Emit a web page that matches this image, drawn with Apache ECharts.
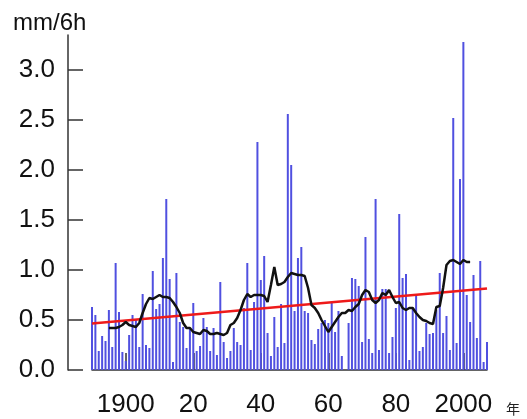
<!DOCTYPE html>
<html>
<head>
<meta charset="utf-8">
<script src="https://cdn.jsdelivr.net/npm/echarts@6/dist/echarts.min.js"></script>
<style>
  html, body { margin: 0; padding: 0; background: #fff; }
  #chart { width: 527px; height: 419px; }
</style>
</head>
<body>
<div id="chart"></div>
<script>
// yearly values 1890-2007 (mm/6h), 1965 missing
const firstYear = 1890;
const rain = [
  0.63, 0.55, 0.19, 0.34, 0.29, 0.60, 0.23, 1.07, 0.58, 0.18,
  0.09, 0.35, 0.55, 0.50, 0.23, 0.76, 0.25, 0.22, 0.99, 0.61,
  0.66, 1.12, 1.71, 0.91, 0.08, 0.97, 0.48, 0.43, 0.22, 0.41,
  0.67, 0.19, 0.24, 0.52, 0.43, 0.19, 0.42, 0.15, 0.88, 0.28,
  0.12, 0.19, 0.42, 0.28, 0.25, 0.62, 1.07, 0.20, 0.68, 2.28,
  0.90, 1.14, 0.37, 0.14, 0.53, 0.23, 0.66, 0.27, 2.56, 2.05,
  0.59, 1.12, 1.23, 0.59, 0.57, 0.30, 0.26, 0.41, 0.47, 0.50,
  0.47, 0.67, 0.38, 0.59, 0.14, null, 0.47, 0.92, 0.91, 0.84,
  0.28, 1.33, 0.31, 0.17, 1.71, 0.20, 0.81, 0.81, 0.17, 0.33,
  0.62, 1.56, 0.92, 0.96, 0.10, 0.62, 0.75, 0.19, 0.23, 0.47,
  0.36, 0.37, 0.60, 0.97, 0.37, 0.54, 0.20, 2.52, 0.27, 1.91,
  3.28, 0.75, 0.48, 0.95, 0.32, 1.09, 0.08, 0.28
];

// running mean, 1895-2002
const meanStart = 1895;
const runMean = [
  0.42, 0.42, 0.42, 0.43, 0.45,
  0.48, 0.45, 0.44, 0.43, 0.47, 0.57, 0.66, 0.72, 0.71, 0.73,
  0.75, 0.73, 0.73, 0.72, 0.68, 0.63, 0.57, 0.47, 0.42, 0.42,
  0.38, 0.37, 0.36, 0.40, 0.39, 0.36, 0.36, 0.37, 0.36, 0.35,
  0.37, 0.45, 0.47, 0.52, 0.60, 0.70, 0.76, 0.73, 0.75, 0.75,
  0.75, 0.74, 0.68, 0.85, 1.03, 0.85, 0.86, 0.88, 0.93, 0.97,
  0.96, 0.95, 0.95, 0.94, 0.82, 0.65, 0.62, 0.57, 0.50, 0.44,
  0.38, 0.43, 0.48, 0.53, 0.57, 0.57, 0.60, 0.59, 0.63, 0.66,
  0.75, 0.80, 0.78, 0.70, 0.67, 0.70, 0.77, 0.75, 0.80, 0.73,
  0.67, 0.68, 0.62, 0.60, 0.62, 0.62, 0.57, 0.53, 0.50, 0.49,
  0.47, 0.46, 0.63, 0.64, 0.82, 1.05, 1.09, 1.10, 1.08, 1.06,
  1.10, 1.08, 1.08
];

// linear trend end points
const trendYears = [1890, 2007];
const trendVals = [0.465, 0.815];

const yTicks = [0, 0.5, 1.0, 1.5, 2.0, 2.5, 3.0];
const xTicks = [1900, 1920, 1940, 1960, 1980, 2000];

const font = "'Liberation Sans', Arial, sans-serif";
const axisColor = '#333';

const chart = echarts.init(document.getElementById('chart'));

chart.setOption({
  animation: false,
  title: {
    text: 'mm/6h',
    left: 8,
    top: 6,
    textStyle: { fontSize: 24, fontWeight: 'normal', color: '#111', fontFamily: font }
  },
  grid: { left: 92, right: 40, top: 35, bottom: 49, containLabel: false },
  xAxis: {
    type: 'value',
    min: 1890,
    max: 2007,
    offset: 14,
    axisLine: { show: true, lineStyle: { color: axisColor, width: 1.5 } },
    axisTick: { show: true, inside: true, length: 17, customValues: xTicks, lineStyle: { color: axisColor, width: 1.5 } },
    axisLabel: {
      customValues: xTicks,
      formatter: (v) => (v % 100 === 0 ? String(v) : String(v % 100)),
      fontSize: 26,
      color: '#111',
      fontFamily: font,
      margin: 8
    },
    splitLine: { show: false }
  },
  yAxis: {
    type: 'value',
    min: 0,
    max: 3.35,
    offset: 24,
    axisLine: { show: true, lineStyle: { color: axisColor, width: 1.5 } },
    axisTick: { show: true, inside: true, length: 15, customValues: yTicks, lineStyle: { color: axisColor, width: 1.5 } },
    axisLabel: {
      customValues: yTicks,
      formatter: (v) => v.toFixed(1),
      fontSize: 26,
      color: '#111',
      fontFamily: font,
      margin: 13
    },
    splitLine: { show: false }
  },
  graphic: [
    {
      type: 'text',
      left: 506,
      top: 402,
      style: { text: '年', fontSize: 14, fill: '#222', fontFamily: "'Noto Sans CJK JP', sans-serif" }
    }
  ],
  series: [
    {
      type: 'bar',
      data: rain.map((v, i) => [firstYear + i, v == null ? '-' : v]),
      barWidth: 2,
      clip: false,
      itemStyle: { color: '#5050e0' },
      z: 1
    },
    {
      type: 'line',
      data: trendYears.map((y, i) => [y, trendVals[i]]),
      showSymbol: false,
      lineStyle: { color: '#ee1a1a', width: 2.5 },
      z: 2
    },
    {
      type: 'line',
      data: runMean.map((v, i) => [meanStart + i, v]),
      showSymbol: false,
      lineStyle: { color: '#111', width: 2.5 },
      z: 3
    }
  ]
});
</script>
</body>
</html>
